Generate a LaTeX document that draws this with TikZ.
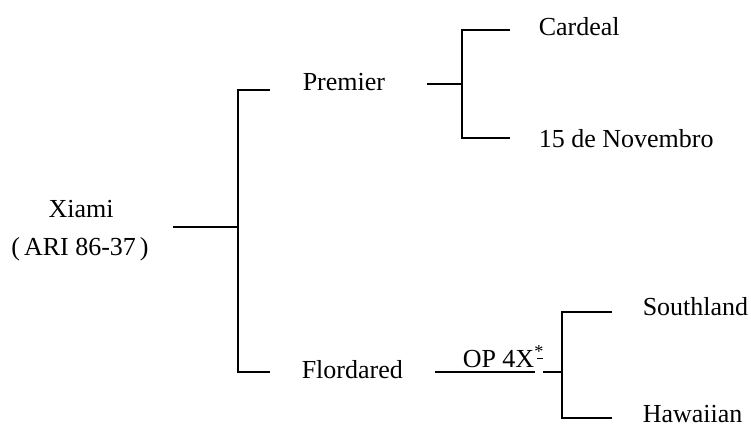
\documentclass[tikz,border=0pt]{standalone}
\usepackage{fontspec}
\setmainfont{Liberation Serif}
\begin{document}
\begin{tikzpicture}[x=1pt,y=-1pt,line width=1.5pt,
  lbl/.style={font=\fontsize{26}{30}\selectfont, inner sep=0pt, anchor=base west}]
\useasboundingbox (0,0) rectangle (751,426);
% labels
\node[lbl,anchor=base] (xiami) at (81,217) {Xiami};
\node[lbl,anchor=base] (ari) at (80,255) {(\hspace{4pt}ARI 86-37\hspace{4pt})};
\node[lbl] (premier) at (302,90) {Premier};
\node[lbl] (cardeal) at (538,35) {Cardeal};
\node[lbl] (nov) at (538,147) {15 de Novembro};
\node[lbl] (flor) at (301,378) {Flordared};
\node[lbl] (op) at (462,367) {OP 4X\textsuperscript{*}};
\node[lbl] (south) at (642,315) {Southland};
\node[lbl] (haw) at (642,422) {Hawaiian};
% junction coordinates
\coordinate (r1) at (173,227);
\coordinate (j1) at (238,227);
\coordinate (j1t) at (238,90);
\coordinate (j1b) at (238,372);
\coordinate (p1) at (270,90);
\coordinate (f1) at (270,372);
\coordinate (p2) at (427,84);
\coordinate (j2) at (462,84);
\coordinate (j2t) at (462,30);
\coordinate (j2b) at (462,138);
\coordinate (c1) at (510,30);
\coordinate (n1) at (510,138);
\coordinate (f2) at (435,372);
\coordinate (f3) at (535,372);
\coordinate (u1) at (537,358);
\coordinate (u2) at (543,358);
\coordinate (f4) at (543,372);
\coordinate (j3) at (562,372);
\coordinate (j3t) at (562,312);
\coordinate (j3b) at (562,418);
\coordinate (s1) at (612,312);
\coordinate (h1) at (612,418);
% connectors
\draw (r1) -- (j1);
\draw (p1) -- (j1t) -- (j1b) -- (f1);
\draw (p2) -- (j2);
\draw (c1) -- (j2t) -- (j2b) -- (n1);
\draw (f2) -- (f3);
\draw[line width=0.8pt] (u1) -- (u2);
\draw (f4) -- (j3);
\draw (s1) -- (j3t) -- (j3b) -- (h1);
\end{tikzpicture}
\end{document}
